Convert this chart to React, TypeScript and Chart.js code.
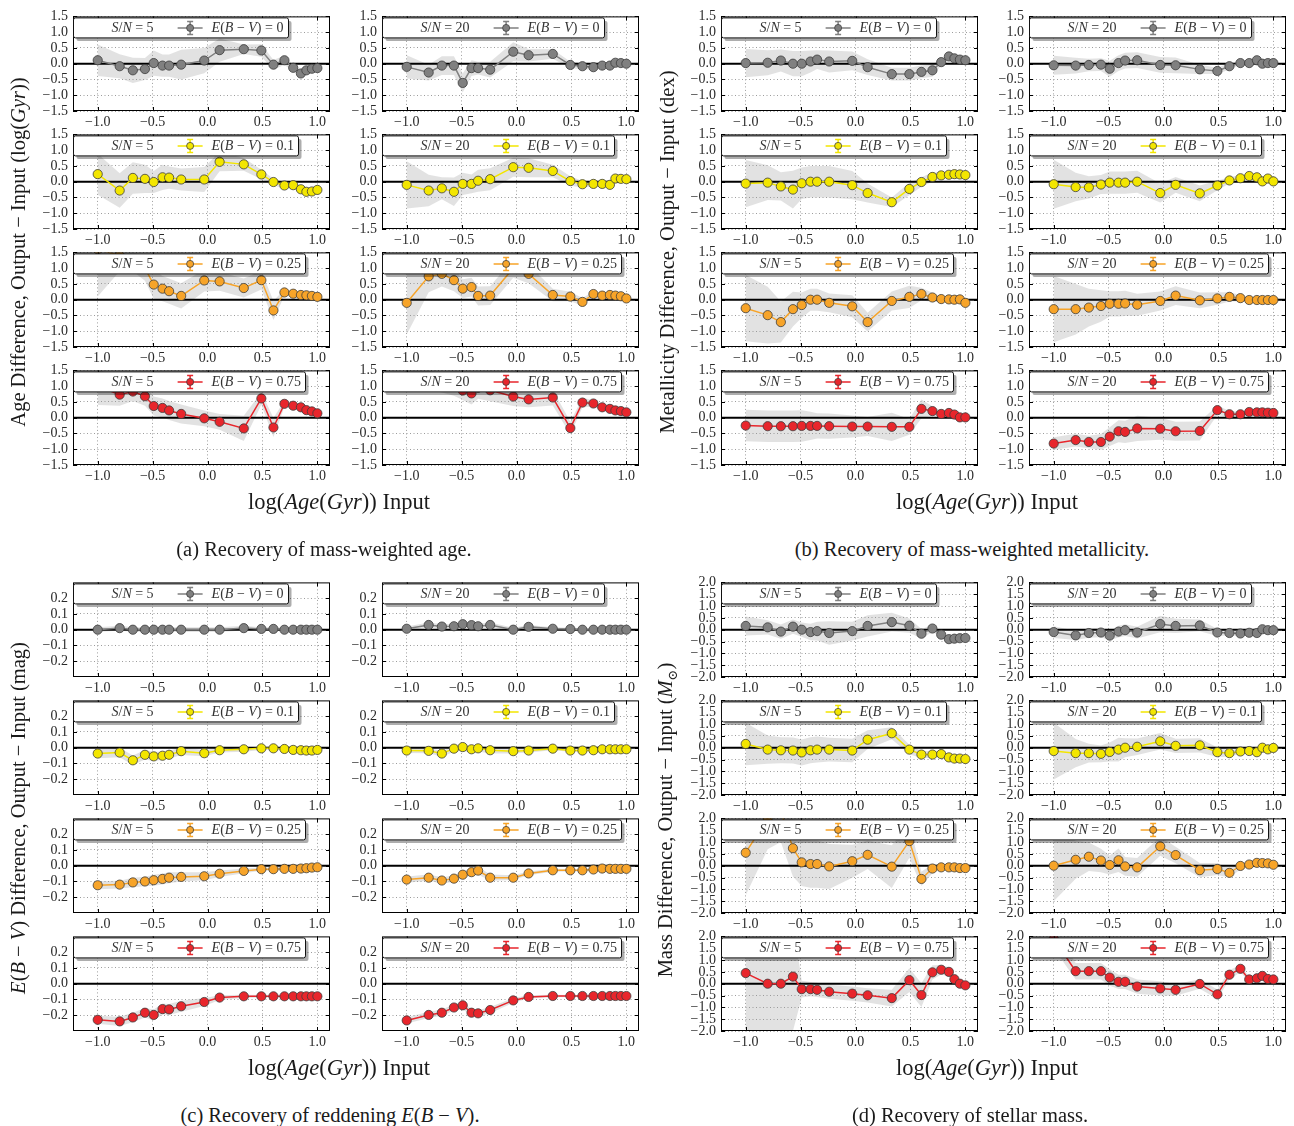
import React, { useEffect, useRef } from 'react';
import { Chart, registerables } from 'chart.js';

Chart.register(...registerables);

// ---------------- data ----------------
const AGE_X = [-1.0, -0.80, -0.68, -0.57, -0.49, -0.41, -0.35, -0.24, -0.03, 0.11, 0.33, 0.49, 0.60, 0.70, 0.78, 0.85, 0.90, 0.95, 1.0];
const X_TICKS = [-1.0, -0.5, 0.0, 0.5, 1.0];
const Y_TICKS_AGE = [-1.5, -1.0, -0.5, 0.0, 0.5, 1.0, 1.5];
const Y_TICKS_EBV = [-0.2, -0.1, 0.0, 0.1, 0.2];
const Y_TICKS_MASS = [-2.0, -1.5, -1.0, -0.5, 0.0, 0.5, 1.0, 1.5, 2.0];
const SN_LEVELS = ['5', '20'];
const EBV_LEVELS = ['0', '0.1', '0.25', '0.75'];
const SERIES_COLORS = ['#808080', '#f3e600', '#f7a429', '#e8262c'];
const ZERO_REF = [-2, 2];

// (a) age
const age_sn5_e0 = [0.11, -0.08, -0.21, -0.17, 0.02, -0.06, -0.06, -0.03, 0.10, 0.43, 0.46, 0.42, -0.03, 0.11, -0.13, -0.31, -0.21, -0.16, -0.14];
const age_sn5_e0_err = [0.5, 0.38, 0.4, 0.35, 0.4, 0.35, 0.35, 0.47, 0.4, 0.37, 0.15, 0.2, 0.15, 0.15, 0.1, 0.1, 0.1, 0.1, 0.05];
const age_sn5_e1 = [0.24, -0.28, 0.12, 0.09, -0.01, 0.14, 0.13, 0.07, 0.07, 0.63, 0.55, 0.23, -0.01, -0.12, -0.11, -0.24, -0.32, -0.31, -0.26];
const age_sn5_e1_err = [0.65, 0.55, 0.5, 0.45, 0.35, 0.4, 0.35, 0.35, 0.4, 0.3, 0.2, 0.15, 0.1, 0.1, 0.1, 0.08, 0.08, 0.08, 0.06];
const age_sn5_e2 = [1.6, 1.4, 1.2, 1.0, 0.48, 0.35, 0.27, 0.12, 0.61, 0.58, 0.37, 0.62, -0.34, 0.23, 0.19, 0.15, 0.14, 0.12, 0.09];
const age_sn5_e2_err = [1.5, 0.5, 0.3, 0.4, 0.45, 0.4, 0.4, 0.4, 0.35, 0.3, 0.3, 0.3, 0.3, 0.1, 0.08, 0.08, 0.06, 0.05, 0.05];
const age_sn5_e3 = [1.0, 0.73, 0.83, 0.68, 0.37, 0.31, 0.23, 0.12, -0.02, -0.13, -0.34, 0.61, -0.31, 0.44, 0.38, 0.33, 0.24, 0.20, 0.14];
const age_sn5_e3_err = [0.6, 0.35, 0.3, 0.3, 0.3, 0.3, 0.3, 0.3, 0.25, 0.25, 0.4, 0.2, 0.3, 0.1, 0.1, 0.1, 0.08, 0.08, 0.06];
const age_sn20_e0 = [-0.10, -0.28, -0.06, -0.06, -0.61, -0.14, -0.14, -0.19, 0.38, 0.27, 0.31, -0.04, -0.08, -0.11, -0.06, -0.06, 0.03, 0.02, 0.00];
const age_sn20_e0_err = [0.37, 0.25, 0.3, 0.3, 0.3, 0.25, 0.2, 0.25, 0.3, 0.2, 0.15, 0.1, 0.1, 0.08, 0.06, 0.05, 0.05, 0.04, 0.04];
const age_sn20_e1 = [-0.10, -0.28, -0.21, -0.32, -0.07, -0.07, 0.03, 0.08, 0.46, 0.44, 0.34, 0.02, -0.08, -0.07, -0.07, -0.10, 0.10, 0.09, 0.08];
const age_sn20_e1_err = [0.75, 0.5, 0.35, 0.45, 0.35, 0.3, 0.35, 0.35, 0.3, 0.3, 0.2, 0.15, 0.1, 0.08, 0.08, 0.06, 0.06, 0.05, 0.05];
const age_sn20_e2 = [-0.10, 0.74, 0.82, 0.62, 0.35, 0.40, 0.12, 0.13, 1.00, 0.82, 0.15, 0.10, -0.07, 0.18, 0.13, 0.15, 0.13, 0.11, 0.04];
const age_sn20_e2_err = [1.0, 0.5, 0.4, 0.35, 0.3, 0.3, 0.3, 0.3, 0.3, 0.3, 0.2, 0.15, 0.12, 0.08, 0.08, 0.06, 0.06, 0.05, 0.05];
const age_sn20_e3 = [1.30, 1.20, 1.10, 1.00, 0.86, 0.77, 0.95, 0.87, 0.67, 0.58, 0.64, -0.33, 0.48, 0.45, 0.33, 0.28, 0.23, 0.21, 0.17];
const age_sn20_e3_err = [0.3, 0.3, 0.3, 0.3, 0.3, 0.35, 0.35, 0.35, 0.3, 0.25, 0.25, 0.2, 0.15, 0.1, 0.08, 0.08, 0.06, 0.06, 0.05];

// (b) metallicity
const met_sn5_e0 = [0.02, 0.03, 0.10, 0.00, 0.00, 0.07, 0.13, 0.07, 0.09, -0.11, -0.33, -0.33, -0.26, -0.21, 0.05, 0.23, 0.17, 0.13, 0.11];
const met_sn5_e0_err = [0.45, 0.4, 0.35, 0.4, 0.4, 0.35, 0.3, 0.35, 0.3, 0.25, 0.2, 0.2, 0.2, 0.2, 0.1, 0.08, 0.06, 0.06, 0.05];
const met_sn5_e1 = [-0.06, -0.03, -0.15, -0.25, -0.05, 0.00, 0.00, 0.00, -0.11, -0.36, -0.65, -0.23, -0.01, 0.15, 0.20, 0.22, 0.24, 0.23, 0.21];
const met_sn5_e1_err = [0.75, 0.55, 0.45, 0.6, 0.5, 0.5, 0.5, 0.5, 0.45, 0.3, 0.15, 0.2, 0.15, 0.15, 0.1, 0.08, 0.06, 0.06, 0.05];
const met_sn5_e2 = [-0.27, -0.49, -0.71, -0.30, -0.17, 0.00, 0.00, -0.10, -0.21, -0.71, -0.04, 0.09, 0.18, 0.07, 0.02, 0.01, 0.00, 0.01, -0.10];
const met_sn5_e2_err = [1.05, 0.9, 0.65, 0.55, 0.4, 0.35, 0.35, 0.3, 0.35, 0.3, 0.3, 0.35, 0.2, 0.15, 0.08, 0.06, 0.06, 0.05, 0.05];
const met_sn5_e3 = [-0.25, -0.27, -0.27, -0.27, -0.26, -0.26, -0.26, -0.27, -0.28, -0.28, -0.29, -0.29, 0.28, 0.21, 0.12, 0.15, 0.10, 0.01, 0.01];
const met_sn5_e3_err = [0.5, 0.5, 0.5, 0.5, 0.5, 0.45, 0.4, 0.4, 0.35, 0.3, 0.45, 0.25, 0.3, 0.15, 0.1, 0.08, 0.06, 0.05, 0.05];
const met_sn20_e0 = [-0.05, -0.06, -0.04, -0.03, -0.16, 0.02, 0.10, 0.11, -0.04, -0.05, -0.18, -0.23, -0.08, 0.02, 0.02, 0.11, 0.00, 0.02, 0.02];
const met_sn20_e0_err = [0.3, 0.25, 0.2, 0.2, 0.25, 0.25, 0.25, 0.25, 0.25, 0.25, 0.15, 0.1, 0.1, 0.06, 0.05, 0.05, 0.04, 0.04, 0.04];
const met_sn20_e1 = [-0.08, -0.17, -0.18, -0.09, -0.03, -0.03, -0.03, 0.00, -0.36, -0.10, -0.37, -0.12, 0.04, 0.11, 0.18, 0.14, 0.01, 0.10, 0.01];
const met_sn20_e1_err = [0.78, 0.45, 0.35, 0.3, 0.35, 0.35, 0.35, 0.35, 0.3, 0.25, 0.25, 0.15, 0.1, 0.1, 0.08, 0.08, 0.06, 0.06, 0.05];
const met_sn20_e2 = [-0.30, -0.30, -0.25, -0.20, -0.13, -0.13, -0.12, -0.16, -0.04, 0.13, -0.02, 0.04, 0.09, 0.05, -0.01, -0.01, -0.01, -0.01, -0.01];
const met_sn20_e2_err = [1.05, 0.8, 0.6, 0.5, 0.4, 0.4, 0.4, 0.35, 0.3, 0.3, 0.25, 0.2, 0.15, 0.1, 0.06, 0.05, 0.05, 0.04, 0.04];
const met_sn20_e3 = [-0.82, -0.71, -0.77, -0.77, -0.60, -0.43, -0.45, -0.34, -0.35, -0.43, -0.42, 0.24, 0.11, 0.11, 0.18, 0.17, 0.17, 0.16, 0.15];
const met_sn20_e3_err = [0.2, 0.2, 0.2, 0.25, 0.3, 0.35, 0.35, 0.4, 0.35, 0.3, 0.3, 0.15, 0.1, 0.08, 0.06, 0.05, 0.05, 0.04, 0.04];

// (c) reddening
const ebv_sn5_e0 = [0.000, 0.010, 0.000, 0.000, 0.000, 0.000, 0.000, 0.000, 0.000, 0.000, 0.010, 0.005, 0.005, 0.000, 0.000, 0.000, 0.000, 0.000, 0.000];
const ebv_sn5_e0_err = [0.015, 0.015, 0.015, 0.015, 0.015, 0.015, 0.015, 0.015, 0.015, 0.015, 0.015, 0.01, 0.01, 0.01, 0.005, 0.005, 0.005, 0.005, 0.005];
const ebv_sn5_e1 = [-0.037, -0.031, -0.080, -0.045, -0.055, -0.051, -0.045, -0.022, -0.035, -0.016, -0.010, -0.004, -0.004, -0.008, -0.014, -0.016, -0.018, -0.018, -0.014];
const ebv_sn5_e1_err = [0.03, 0.03, 0.03, 0.03, 0.03, 0.025, 0.025, 0.025, 0.02, 0.015, 0.015, 0.01, 0.01, 0.01, 0.01, 0.01, 0.01, 0.01, 0.01];
const ebv_sn5_e2 = [-0.124, -0.120, -0.106, -0.100, -0.092, -0.084, -0.076, -0.071, -0.067, -0.051, -0.033, -0.022, -0.022, -0.020, -0.020, -0.018, -0.016, -0.012, -0.010];
const ebv_sn5_e2_err = [0.025, 0.025, 0.03, 0.03, 0.035, 0.035, 0.035, 0.03, 0.025, 0.02, 0.015, 0.01, 0.01, 0.01, 0.01, 0.01, 0.01, 0.01, 0.01];
const ebv_sn5_e3 = [-0.229, -0.239, -0.214, -0.184, -0.198, -0.161, -0.163, -0.143, -0.116, -0.088, -0.080, -0.080, -0.080, -0.080, -0.080, -0.080, -0.080, -0.080, -0.080];
const ebv_sn5_e3_err = [0.025, 0.03, 0.03, 0.03, 0.035, 0.035, 0.035, 0.035, 0.025, 0.015, 0.01, 0.008, 0.008, 0.006, 0.006, 0.005, 0.005, 0.005, 0.005];
const ebv_sn20_e0 = [0.006, 0.030, 0.020, 0.022, 0.035, 0.029, 0.022, 0.030, 0.000, 0.018, 0.006, 0.004, 0.000, 0.000, 0.000, 0.000, 0.000, 0.000, 0.000];
const ebv_sn20_e0_err = [0.015, 0.015, 0.015, 0.015, 0.015, 0.015, 0.015, 0.015, 0.012, 0.012, 0.01, 0.008, 0.006, 0.005, 0.005, 0.005, 0.005, 0.005, 0.005];
const ebv_sn20_e1 = [-0.018, -0.020, -0.037, -0.006, 0.004, -0.010, -0.004, -0.016, -0.022, -0.018, -0.006, -0.018, -0.018, -0.016, -0.010, -0.010, -0.010, -0.010, -0.010];
const ebv_sn20_e1_err = [0.015, 0.015, 0.02, 0.02, 0.025, 0.02, 0.02, 0.02, 0.015, 0.012, 0.01, 0.008, 0.008, 0.006, 0.006, 0.005, 0.005, 0.005, 0.005];
const ebv_sn20_e2 = [-0.088, -0.076, -0.094, -0.082, -0.057, -0.041, -0.031, -0.076, -0.076, -0.049, -0.029, -0.029, -0.029, -0.024, -0.018, -0.020, -0.020, -0.020, -0.020];
const ebv_sn20_e2_err = [0.02, 0.02, 0.02, 0.02, 0.02, 0.02, 0.025, 0.02, 0.015, 0.012, 0.01, 0.008, 0.008, 0.006, 0.006, 0.005, 0.005, 0.005, 0.005];
const ebv_sn20_e3 = [-0.233, -0.198, -0.184, -0.151, -0.137, -0.184, -0.188, -0.167, -0.106, -0.084, -0.078, -0.078, -0.078, -0.078, -0.078, -0.078, -0.078, -0.078, -0.078];
const ebv_sn20_e3_err = [0.02, 0.02, 0.02, 0.02, 0.025, 0.02, 0.02, 0.02, 0.015, 0.01, 0.008, 0.006, 0.006, 0.005, 0.005, 0.005, 0.005, 0.005, 0.005];

// (d) stellar mass
const mass_sn5_e0 = [0.16, 0.10, -0.08, 0.13, 0.00, -0.10, -0.06, -0.14, -0.06, 0.16, 0.32, 0.17, -0.17, 0.05, -0.21, -0.40, -0.38, -0.36, -0.35];
const mass_sn5_e0_err = [0.4, 0.3, 0.3, 0.3, 0.3, 0.35, 0.4, 0.5, 0.4, 0.45, 0.4, 0.3, 0.2, 0.15, 0.1, 0.08, 0.06, 0.06, 0.05];
const mass_sn5_e1 = [0.16, -0.08, -0.11, -0.12, -0.20, -0.11, -0.08, -0.08, -0.12, 0.34, 0.61, -0.08, -0.29, -0.29, -0.27, -0.41, -0.46, -0.46, -0.48];
const mass_sn5_e1_err = [0.9, 0.6, 0.55, 0.55, 0.55, 0.55, 0.55, 0.5, 0.5, 0.4, 0.25, 0.2, 0.15, 0.15, 0.1, 0.1, 0.08, 0.06, 0.06];
const mass_sn5_e2 = [0.55, 2.00, 2.30, 0.74, 0.14, 0.07, 0.07, -0.03, 0.19, 0.46, -0.04, 1.04, -0.56, -0.12, -0.07, -0.07, -0.07, -0.10, -0.10];
const mass_sn5_e2_err = [1.8, 1.3, 1.3, 1.2, 1.0, 1.0, 1.0, 0.95, 0.7, 0.6, 0.9, 0.7, 0.3, 0.2, 0.1, 0.1, 0.08, 0.06, 0.06];
const mass_sn5_e3 = [0.45, 0.00, 0.00, 0.30, -0.23, -0.23, -0.26, -0.34, -0.42, -0.49, -0.61, 0.15, -0.48, 0.48, 0.59, 0.50, 0.19, 0.00, -0.07];
const mass_sn5_e3_err = [2.4, 2.1, 2.1, 2.3, 0.35, 0.3, 0.3, 0.3, 0.3, 0.3, 0.35, 0.5, 0.5, 0.3, 0.2, 0.2, 0.15, 0.1, 0.1];
const mass_sn20_e0 = [-0.10, -0.24, -0.14, -0.12, -0.25, -0.08, -0.02, -0.12, 0.24, 0.16, 0.18, -0.12, -0.14, -0.16, -0.13, -0.14, 0.02, -0.02, -0.02];
const mass_sn20_e0_err = [0.25, 0.2, 0.2, 0.2, 0.2, 0.25, 0.25, 0.25, 0.35, 0.3, 0.25, 0.15, 0.1, 0.1, 0.08, 0.06, 0.05, 0.05, 0.05];
const mass_sn20_e1 = [-0.14, -0.23, -0.23, -0.26, -0.18, -0.08, 0.00, 0.04, 0.27, 0.08, 0.10, -0.19, -0.23, -0.16, -0.14, -0.19, 0.00, -0.07, -0.01];
const mass_sn20_e1_err = [1.2, 0.6, 0.4, 0.35, 0.4, 0.5, 0.4, 0.35, 0.35, 0.3, 0.3, 0.2, 0.15, 0.1, 0.1, 0.08, 0.08, 0.06, 0.06];
const mass_sn20_e2 = [0.00, 0.25, 0.38, 0.22, 0.03, 0.23, -0.03, -0.07, 0.82, 0.45, -0.19, -0.14, -0.30, -0.01, 0.05, 0.12, 0.11, 0.10, 0.04];
const mass_sn20_e2_err = [1.5, 0.8, 0.6, 0.5, 0.4, 0.5, 0.4, 0.4, 0.4, 0.35, 0.3, 0.25, 0.2, 0.15, 0.1, 0.1, 0.08, 0.06, 0.06];
const mass_sn20_e3 = [1.90, 0.53, 0.53, 0.53, 0.26, 0.08, 0.08, -0.12, -0.20, -0.26, -0.01, -0.45, 0.38, 0.63, 0.18, 0.23, 0.33, 0.20, 0.18];
const mass_sn20_e3_err = [0.4, 0.35, 0.35, 0.35, 0.35, 0.3, 0.3, 0.3, 0.3, 0.25, 0.2, 0.2, 0.2, 0.15, 0.1, 0.1, 0.08, 0.06, 0.06];

// ---------------- layout ----------------
const FONT = '"Liberation Serif", "DejaVu Serif", serif';
const TICK_SIZE = 14;
const LEG_SIZE = 14;
const X_MIN = -1.225;
const X_MAX = 1.115;
const COL_LEFT = [73, 382, 721, 1029];
const ROWS_TOP = [13, 131, 249, 367];
const ROWS_BOTTOM = [579, 697, 815, 933];
const PLOT_W = 257;
const PLOT_H = 98;
const YW = 48;
const XH = 24;
const TP = 10;
const RP = 12;
const BAND_COLOR = 'rgba(150,150,150,0.28)';
const GRID_COLOR = '#9c9c9c';

const PANELS = [
  {
    yMin: -1.5, yMax: 1.5, yTicks: Y_TICKS_AGE, cols: [0, 1], rows: ROWS_TOP,
    series: [[age_sn5_e0, age_sn5_e1, age_sn5_e2, age_sn5_e3], [age_sn20_e0, age_sn20_e1, age_sn20_e2, age_sn20_e3]],
    errs: [[age_sn5_e0_err, age_sn5_e1_err, age_sn5_e2_err, age_sn5_e3_err], [age_sn20_e0_err, age_sn20_e1_err, age_sn20_e2_err, age_sn20_e3_err]],
  },
  {
    yMin: -1.5, yMax: 1.5, yTicks: Y_TICKS_AGE, cols: [2, 3], rows: ROWS_TOP,
    series: [[met_sn5_e0, met_sn5_e1, met_sn5_e2, met_sn5_e3], [met_sn20_e0, met_sn20_e1, met_sn20_e2, met_sn20_e3]],
    errs: [[met_sn5_e0_err, met_sn5_e1_err, met_sn5_e2_err, met_sn5_e3_err], [met_sn20_e0_err, met_sn20_e1_err, met_sn20_e2_err, met_sn20_e3_err]],
  },
  {
    yMin: -0.3, yMax: 0.3, yTicks: Y_TICKS_EBV, cols: [0, 1], rows: ROWS_BOTTOM,
    series: [[ebv_sn5_e0, ebv_sn5_e1, ebv_sn5_e2, ebv_sn5_e3], [ebv_sn20_e0, ebv_sn20_e1, ebv_sn20_e2, ebv_sn20_e3]],
    errs: [[ebv_sn5_e0_err, ebv_sn5_e1_err, ebv_sn5_e2_err, ebv_sn5_e3_err], [ebv_sn20_e0_err, ebv_sn20_e1_err, ebv_sn20_e2_err, ebv_sn20_e3_err]],
  },
  {
    yMin: -2.0, yMax: 2.0, yTicks: Y_TICKS_MASS, cols: [2, 3], rows: ROWS_BOTTOM,
    series: [[mass_sn5_e0, mass_sn5_e1, mass_sn5_e2, mass_sn5_e3], [mass_sn20_e0, mass_sn20_e1, mass_sn20_e2, mass_sn20_e3]],
    errs: [[mass_sn5_e0_err, mass_sn5_e1_err, mass_sn5_e2_err, mass_sn5_e3_err], [mass_sn20_e0_err, mass_sn20_e1_err, mass_sn20_e2_err, mass_sn20_e3_err]],
  },
];

const fmt = (v: number) => {
  const s = Math.abs(v).toFixed(1);
  return v < -1e-9 ? '\u2212' + s : s;
};

type Run = { t: string; i: boolean };

function runsWidth(ctx: CanvasRenderingContext2D, runs: Run[]) {
  let w = 0;
  for (const r of runs) {
    ctx.font = `${r.i ? 'italic ' : ''}${LEG_SIZE}px ${FONT}`;
    w += ctx.measureText(r.t).width;
  }
  return w;
}

function drawRuns(ctx: CanvasRenderingContext2D, runs: Run[], x: number, y: number) {
  for (const r of runs) {
    ctx.font = `${r.i ? 'italic ' : ''}${LEG_SIZE}px ${FONT}`;
    ctx.fillText(r.t, x, y);
    x += ctx.measureText(r.t).width;
  }
  return x;
}

function SubPlot(props: any) {
  const { left, top, values, errs, color, sn, ebv, yMin, yMax, yTicks } = props;
  const ref = useRef<HTMLCanvasElement>(null);
  const W = YW + PLOT_W + RP;
  const H = TP + PLOT_H + XH;

  useEffect(() => {
    const canvas = ref.current;
    if (!canvas) return;
    const pts = AGE_X.map((x, i) => ({ x, y: values[i] }));
    const hi = AGE_X.map((x, i) => ({ x, y: values[i] + errs[i] }));
    const lo = AGE_X.map((x, i) => ({ x, y: values[i] - errs[i] }));
    const zero = ZERO_REF.map((x) => ({ x, y: 0 }));

    const decor = {
      id: 'decor',
      afterDatasetsDraw(chart: any) {
        const { ctx, chartArea: a, scales } = chart;
        ctx.save();
        // frame
        ctx.strokeStyle = '#000';
        ctx.lineWidth = 1;
        ctx.strokeRect(a.left + 0.5, a.top + 0.5, a.right - a.left - 1, a.bottom - a.top - 1);
        // inside tick marks
        ctx.beginPath();
        for (const v of X_TICKS) {
          const px = Math.round(scales.x.getPixelForValue(v)) + 0.5;
          ctx.moveTo(px, a.bottom); ctx.lineTo(px, a.bottom - 4);
          ctx.moveTo(px, a.top); ctx.lineTo(px, a.top + 4);
        }
        for (const v of yTicks) {
          const py = Math.round(scales.y.getPixelForValue(v)) + 0.5;
          ctx.moveTo(a.left, py); ctx.lineTo(a.left + 4, py);
          ctx.moveTo(a.right, py); ctx.lineTo(a.right - 4, py);
        }
        ctx.stroke();

        // legend box
        const r1: Run[] = [{ t: 'S', i: true }, { t: '/', i: false }, { t: 'N', i: true }, { t: ' = ' + sn, i: false }];
        const r2: Run[] = [
          { t: 'E', i: true }, { t: '(', i: false }, { t: 'B', i: true }, { t: ' \u2212 ', i: false },
          { t: 'V', i: true }, { t: ') = ' + ebv, i: false },
        ];
        const w1 = runsWidth(ctx, r1);
        const w2 = runsWidth(ctx, r2);
        const bx = a.left + 0.5;
        const by = a.top + 1.5;
        const bh = 20;
        const bw = Math.round(38 + w1 + 24 + 25 + 9 + w2 + 5);
        ctx.fillStyle = 'rgba(0,0,0,0.32)';
        ctx.beginPath();
        ctx.roundRect(bx + 3, by + 3, bw, bh, 2);
        ctx.fill();
        ctx.fillStyle = '#ffffff';
        ctx.beginPath();
        ctx.roundRect(bx, by, bw, bh, 2);
        ctx.fill();
        ctx.strokeStyle = '#111';
        ctx.lineWidth = 1;
        ctx.stroke();

        const cy = by + bh / 2;
        ctx.fillStyle = '#333';
        ctx.textBaseline = 'middle';
        ctx.textAlign = 'left';
        drawRuns(ctx, r1, bx + 38, cy + 0.5);
        const hx = bx + 38 + w1 + 24;
        const mx = hx + 12.5;
        ctx.strokeStyle = color;
        ctx.lineWidth = 1.5;
        ctx.beginPath();
        ctx.moveTo(hx, cy); ctx.lineTo(hx + 25, cy);
        ctx.moveTo(mx, cy - 6.5); ctx.lineTo(mx, cy + 6.5);
        ctx.moveTo(mx - 3, cy - 6.5); ctx.lineTo(mx + 3, cy - 6.5);
        ctx.moveTo(mx - 3, cy + 6.5); ctx.lineTo(mx + 3, cy + 6.5);
        ctx.stroke();
        ctx.beginPath();
        ctx.arc(mx, cy, 3.5, 0, Math.PI * 2);
        ctx.fillStyle = color;
        ctx.fill();
        ctx.strokeStyle = '#404040';
        ctx.lineWidth = 0.8;
        ctx.stroke();
        ctx.fillStyle = '#333';
        drawRuns(ctx, r2, hx + 25 + 9, cy + 0.5);
        ctx.restore();
      },
    };

    const tickFont = { family: FONT, size: TICK_SIZE };
    const chart = new Chart(canvas, {
      type: 'line',
      data: {
        datasets: [
          {
            data: pts, borderColor: color, backgroundColor: color, borderWidth: 1.5,
            pointRadius: 4.6, pointBackgroundColor: color, pointBorderColor: '#3c3c3c', pointBorderWidth: 0.8,
            fill: false, tension: 0, order: 1,
          },
          { data: zero, borderColor: '#000', borderWidth: 2, pointRadius: 0, fill: false, order: 2 },
          { data: hi, borderColor: 'rgba(0,0,0,0)', borderWidth: 1, pointRadius: 0, backgroundColor: BAND_COLOR, fill: '+1', order: 3 },
          { data: lo, borderColor: 'rgba(0,0,0,0)', borderWidth: 1, pointRadius: 0, fill: false, order: 4 },
        ],
      } as any,
      options: {
        responsive: false,
        maintainAspectRatio: false,
        animation: false,
        devicePixelRatio: 1,
        events: [],
        layout: { padding: { left: 0, right: RP, top: TP, bottom: 0 } },
        plugins: { legend: { display: false }, tooltip: { enabled: false } },
        scales: {
          x: {
            type: 'linear', min: X_MIN, max: X_MAX,
            afterBuildTicks: (s: any) => { s.ticks = X_TICKS.map((v) => ({ value: v })); },
            afterFit: (s: any) => { s.height = XH; },
            grid: { color: GRID_COLOR, lineWidth: 1, drawTicks: false },
            border: { display: false, dash: [1, 2.5] },
            ticks: { font: tickFont, color: '#2a2a2a', padding: 3, autoSkip: false, maxRotation: 0, callback: (v: any) => fmt(Number(v)) },
          },
          y: {
            type: 'linear', min: yMin, max: yMax,
            afterBuildTicks: (s: any) => { s.ticks = yTicks.map((v: number) => ({ value: v })); },
            afterFit: (s: any) => { s.width = YW; },
            grid: { color: GRID_COLOR, lineWidth: 1, drawTicks: false },
            border: { display: false, dash: [1, 2.5] },
            ticks: { font: tickFont, color: '#2a2a2a', padding: 5, autoSkip: false, callback: (v: any) => fmt(Number(v)) },
          },
        },
      } as any,
      plugins: [decor as any],
    });
    return () => chart.destroy();
  }, []);

  return (
    <canvas
      ref={ref}
      width={W}
      height={H}
      style={{ position: 'absolute', left: left - YW, top: top - TP, width: W, height: H }}
    />
  );
}

const titleBase: React.CSSProperties = {
  position: 'absolute',
  whiteSpace: 'nowrap',
  fontFamily: FONT,
  color: '#1a1a1a',
  lineHeight: 1,
};

function YTitle({ x, y, children }: any) {
  return (
    <div style={{ ...titleBase, left: x, top: y, fontSize: 20.5, transform: 'translate(-50%, -50%) rotate(-90deg)' }}>
      {children}
    </div>
  );
}

function CText({ x, y, size, children }: any) {
  return (
    <div style={{ ...titleBase, left: x, top: y, fontSize: size, transform: 'translate(-50%, -50%)' }}>
      {children}
    </div>
  );
}

const XLabel = () => (
  <span>log(<i>Age</i>(<i>Gyr</i>)) Input</span>
);

export default function App() {
  const subs: any[] = [];
  PANELS.forEach((p, pi) => {
    p.series.forEach((col, ci) => {
      col.forEach((vals, ri) => {
        subs.push(
          <SubPlot
            key={`${pi}-${ci}-${ri}`}
            left={COL_LEFT[p.cols[ci]]}
            top={p.rows[ri]}
            values={vals}
            errs={p.errs[ci][ri]}
            color={SERIES_COLORS[ri]}
            sn={SN_LEVELS[ci]}
            ebv={EBV_LEVELS[ri]}
            yMin={p.yMin}
            yMax={p.yMax}
            yTicks={p.yTicks}
          />
        );
      });
    });
  });

  return (
    <div style={{ position: 'absolute', left: 0, top: 0, width: 1294, height: 1126, background: '#fff', overflow: 'hidden' }}>
      {subs}
      <YTitle x={18} y={252}>Age Difference, Output − Input (log(<i>Gyr</i>))</YTitle>
      <YTitle x={667} y={252}>Metallicity Difference, Output − Input (dex)</YTitle>
      <YTitle x={18} y={818}><i>E</i>(<i>B</i> − <i>V</i>) Difference, Output − Input (mag)</YTitle>
      <YTitle x={667} y={820}>Mass Difference, Output − Input (<i>M</i><sub style={{ fontSize: 13 }}>⊙</sub>)</YTitle>
      <CText x={339} y={502} size={22.5}><XLabel /></CText>
      <CText x={987} y={502} size={22.5}><XLabel /></CText>
      <CText x={339} y={1068} size={22.5}><XLabel /></CText>
      <CText x={987} y={1068} size={22.5}><XLabel /></CText>
      <CText x={324} y={549} size={20.5}>(a) Recovery of mass-weighted age.</CText>
      <CText x={972} y={549} size={20.5}>(b) Recovery of mass-weighted metallicity.</CText>
      <CText x={330} y={1115} size={20.5}>(c) Recovery of reddening <i>E</i>(<i>B</i> − <i>V</i>).</CText>
      <CText x={970} y={1115} size={20.5}>(d) Recovery of stellar mass.</CText>
    </div>
  );
}
